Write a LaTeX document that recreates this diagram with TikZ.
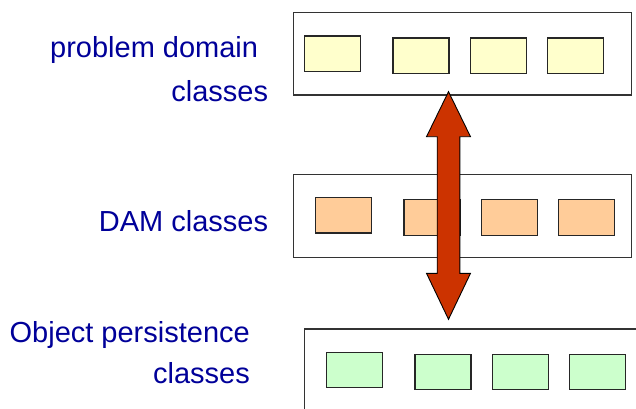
\documentclass[tikz,border=0pt]{standalone}
\usepackage{fontspec}
\setmainfont{Liberation Sans}
\definecolor{pdyellow}{HTML}{FFFFCC}
\definecolor{damorange}{HTML}{FFCC99}
\definecolor{opgreen}{HTML}{CCFFCC}
\definecolor{arrowred}{HTML}{CC3300}
\definecolor{labelblue}{HTML}{000099}
\definecolor{framegray}{HTML}{333333}
\tikzset{
  layerbox/.style={draw=framegray, line width=1.3pt, fill=white, rectangle, inner sep=0pt, minimum width=338.4pt},
  classbox/.style={draw=black!85, line width=1.4pt, rectangle, inner sep=0pt, minimum width=56pt, minimum height=35.5pt},
  pdbox/.style={classbox, fill=pdyellow},
  dambox/.style={classbox, fill=damorange},
  opbox/.style={classbox, fill=opgreen},
  lbl/.style={text=labelblue, font=\fontsize{29}{34}\selectfont, anchor=base east, inner sep=0pt},
  bigarrow/.style={fill=arrowred, draw=black, line width=0.9pt, line join=miter}
}
\begin{document}
\begin{tikzpicture}[x=1pt,y=-1pt]
\useasboundingbox (0,0) rectangle (636,408);
\clip (0,0) rectangle (636,408);
% layer frames
\node[layerbox, minimum height=82.3pt] (pd) at (462.5,53.85) {};
\node[layerbox, minimum height=82.6pt] (dam) at (462.5,216) {};
\node[layerbox, minimum width=360pt, minimum height=110pt] (op) at (484.3,384) {};
% class boxes
\node[pdbox] (pd1) at (332.3,53.7) {};
\node[pdbox] (pd2) at (421,55.7) {};
\node[pdbox] (pd3) at (498.2,55.7) {};
\node[pdbox] (pd4) at (575.5,55.7) {};
\node[dambox] (dam1) at (343.5,215.3) {};
\node[dambox] (dam2) at (432,217.5) {};
\node[dambox] (dam3) at (509.2,217.5) {};
\node[dambox] (dam4) at (586.5,217.5) {};
\node[opbox] (op1) at (354.7,370) {};
\node[opbox] (op2) at (443,372) {};
\node[opbox] (op3) at (520.2,372) {};
\node[opbox] (op4) at (597.5,372) {};
% labels
\node[lbl] (l1a) at (258.3,57.3) {problem domain};
\node[lbl] (l1b) at (268.3,101.7) {classes};
\node[lbl] (l2) at (268.3,231.7) {DAM classes};
\node[lbl] (l3a) at (250,342.7) {Object persistence};
\node[lbl] (l3b) at (250,383.3) {classes};
% double arrow
\coordinate (tipup) at (448.5,91.7);
\coordinate (tipdown) at (448.5,319.3);
\draw[bigarrow] (tipup) -- (470.5,136.7) -- (459.8,136.7) -- (459.8,273.3) -- (470.5,273.3)
  -- (tipdown) -- (426.5,273.3) -- (437.2,273.3) -- (437.2,136.7) -- (426.5,136.7) -- cycle;
\end{tikzpicture}
\end{document}
